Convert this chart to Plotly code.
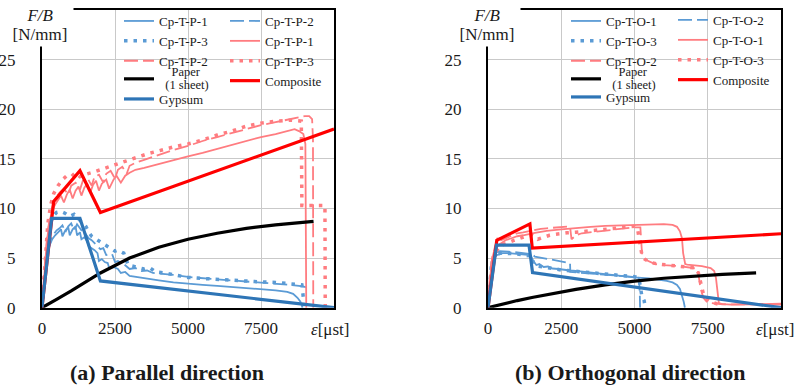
import plotly.graph_objects as go

W, H = 798, 387

# ---------------- (a) Parallel direction ----------------
par_blue1_x = [0, 80, 160, 250, 350, 450, 550, 650, 700, 800, 900, 950, 1050, 1150, 1200, 1300, 1350, 1450, 1550, 1600,
               1700, 1800, 1900, 1950, 2050, 2150, 2250, 2300, 2450, 2600, 2700, 2850, 3000, 3500, 4000, 4500, 5000,
               5500, 6000, 6500, 7000, 7500, 8000, 8400, 8600, 8750, 8850, 8900, 8920]
par_blue1_y = [0, 2.5, 4.8, 6.2, 6.9, 7.3, 7.6, 7.9, 7.2, 7.8, 8.1, 7.3, 7.9, 8.2, 7.3, 7.6, 6.9, 7.1, 6.7, 6.2,
               6.0, 5.8, 5.5, 4.7, 4.9, 4.6, 4.5, 4.0, 4.1, 3.9, 3.5, 3.6, 3.2, 2.95, 2.75, 2.55, 2.4,
               2.3, 2.2, 2.1, 2.0, 1.9, 1.75, 1.6, 1.4, 1.0, 0.6, 0.2, 0]

par_blue2_x = [0, 100, 200, 300, 400, 500, 600, 700, 800, 900, 1000, 1100, 1200, 1300, 1400, 1500, 1600, 1700, 1800,
               1900, 2000, 2100, 2200, 2400, 2500, 2600, 2800, 3000, 3200, 3400, 3600, 3800, 4000, 4500, 5000, 5500,
               6000, 6500, 7000, 7500, 8000, 8500, 8800, 9000, 9180]
par_blue2_y = [0, 3.2, 5.6, 6.8, 7.4, 7.8, 8.0, 8.3, 7.6, 8.2, 8.5, 7.8, 8.4, 8.0, 7.6, 7.4, 7.0, 6.8, 6.5,
               6.3, 5.9, 6.0, 5.3, 5.4, 4.6, 4.7, 4.4, 3.9, 4.0, 3.7, 3.75, 3.5, 3.45, 3.3, 3.1, 2.95,
               2.85, 2.75, 2.65, 2.55, 2.45, 2.3, 2.2, 2.1, 1.9]

par_blue3_x = [0, 100, 200, 300, 400, 500, 650, 800, 950, 1100, 1250, 1400, 1500, 1600, 1700, 1800, 2000, 2200, 2400,
               2500, 2600, 2800, 2950, 3100, 3300, 3500, 3700, 3900, 4200, 4500, 5000, 5500, 6000, 6500, 7000, 7500,
               8000, 8500, 8900, 8950, 8960]
par_blue3_y = [0, 4.0, 7.0, 8.6, 9.3, 9.6, 9.7, 9.5, 9.2, 9.4, 8.9, 8.5, 8.2, 7.6, 7.2, 7.0, 6.6, 6.2, 5.9,
               5.7, 5.8, 5.5, 4.3, 4.2, 4.1, 3.9, 4.0, 3.6, 3.5, 3.3, 3.05, 2.95, 2.85, 2.75, 2.7, 2.6,
               2.55, 2.45, 2.3, 1.0, 0]

par_red1_x = [0, 80, 160, 250, 350, 450, 550, 650, 750, 850, 950, 1050, 1150, 1250, 1350, 1450, 1550, 1650, 1750,
              1850, 1950, 2050, 2200, 2300, 2450, 2550, 2700, 2850, 3000, 3200, 3500, 4000, 4500, 5000, 5500, 6000,
              6500, 7000, 7500, 8000, 8400, 8650, 8800, 8950, 9020, 9040, 9050]
par_red1_y = [0, 3.5, 6.5, 8.6, 9.8, 10.4, 10.9, 11.3, 10.6, 11.4, 11.9, 11.0, 11.8, 12.2, 11.3, 12.1, 12.5, 11.6, 12.4,
              12.8, 11.8, 12.5, 12.9, 12.0, 12.9, 13.3, 12.6, 13.3, 13.6, 13.9, 14.1, 14.5, 14.9, 15.25, 15.6, 16.0,
              16.4, 16.8, 17.2, 17.5, 17.8, 18.0, 17.8, 17.5, 16.5, 8.0, 0]

par_red2_x = [0, 100, 200, 300, 400, 500, 600, 750, 900, 1000, 1150, 1300, 1400, 1550, 1700, 1800, 1950, 2100, 2200,
              2350, 2500, 2600, 2750, 2900, 3000, 3200, 3500, 4000, 4500, 5000, 5500, 6000, 6500, 7000, 7500, 8000,
              8500, 8800, 9000, 9150, 9250, 9280, 9290]
par_red2_y = [0, 4.5, 7.8, 9.6, 10.6, 11.2, 11.6, 12.0, 11.4, 12.3, 12.6, 11.9, 12.8, 13.1, 12.3, 13.2, 13.4, 12.6, 13.5,
              13.8, 13.0, 13.9, 14.2, 13.5, 14.3, 14.6, 14.9, 15.4, 15.9, 16.3, 16.8, 17.2, 17.6, 18.0, 18.4, 18.7,
              19.0, 19.2, 19.3, 19.3, 19.0, 17.0, 0]

par_red3_x = [0, 100, 200, 300, 400, 550, 700, 850, 1000, 1150, 1300, 1450, 1600, 1800, 2000, 2200, 2400, 2600, 2800,
              3000, 3300, 3600, 4000, 4500, 5000, 5500, 6000, 6500, 7000, 7500, 8000, 8500, 8880, 8895, 8900, 9300,
              9690, 9700]
par_red3_y = [0, 5.0, 8.5, 10.4, 11.5, 12.3, 12.9, 13.3, 13.2, 13.6, 13.2, 13.4, 13.5, 13.7, 13.9, 14.1, 14.3, 14.5, 14.7,
              14.9, 15.2, 15.5, 15.8, 16.2, 16.5, 16.9, 17.4, 17.8, 18.3, 18.6, 18.8, 18.9, 18.8, 14.0, 10.3, 10.3,
              10.3, 0]

par_paper_x = [0, 250, 500, 1000, 1500, 2000, 3000, 4000, 5000, 6000, 7000, 8000, 9300]
par_paper_y = [0, 0.45, 0.85, 1.7, 2.6, 3.5, 5.0, 6.1, 6.9, 7.5, 8.0, 8.35, 8.7]

par_comp_x = [0, 400, 1300, 2000, 10000]
par_comp_y = [0, 10.7, 13.8, 9.6, 18.0]

par_gyp_x = [0, 330, 1300, 2000, 10000]
par_gyp_y = [0, 9.0, 9.0, 2.7, 0]

# ---------------- (b) Orthogonal direction ----------------
ort_blue1_x = [0, 60, 120, 200, 300, 400, 500, 700, 900, 1100, 1300, 1450, 1550, 1650, 1750, 1900, 2050, 2200, 2400,
               2600, 2800, 3000, 3300, 3600, 4000, 4500, 5000, 5500, 5800, 6100, 6300, 6450, 6550, 6620, 6680, 6720]
ort_blue1_y = [0, 2.5, 4.2, 5.0, 5.3, 5.4, 5.5, 5.5, 5.45, 5.4, 5.35, 5.3, 4.7, 4.3, 4.4, 4.1, 4.15, 3.95, 3.9,
               3.8, 3.75, 3.7, 3.6, 3.5, 3.35, 3.2, 3.05, 2.95, 2.85, 2.7, 2.55, 2.3, 1.9, 1.3, 0.6, 0]

ort_blue2_x = [0, 60, 120, 200, 300, 400, 500, 700, 900, 1100, 1300, 1500, 1600, 1800, 2000, 2200, 2400, 2600, 2800,
               2810, 3000, 3300, 3600, 4000, 4500, 5000, 5150, 5180, 5190]
ort_blue2_y = [0, 2.8, 4.6, 5.3, 5.6, 5.7, 5.7, 5.65, 5.6, 5.55, 5.5, 5.4, 5.15, 5.05, 4.95, 4.85, 4.75, 4.65, 4.5,
               3.6, 3.55, 3.45, 3.4, 3.3, 3.2, 3.1, 3.0, 1.5, 0]

ort_blue3_x = [0, 60, 120, 200, 300, 450, 600, 800, 1000, 1200, 1400, 1500, 1550, 1700, 1900, 2100, 2300, 2500, 2700,
               2900, 3100, 3400, 3800, 4200, 4600, 5000, 5150, 5200, 5250, 5330, 5360, 5370]
ort_blue3_y = [0, 2.6, 4.4, 5.1, 5.4, 5.5, 5.5, 5.45, 5.4, 5.3, 5.25, 5.2, 4.4, 4.2, 4.1, 4.0, 3.85, 3.8, 3.75,
               3.7, 3.65, 3.55, 3.45, 3.35, 3.25, 3.12, 3.0, 2.0, 1.2, 0.7, 0.3, 0]

ort_red1_x = [0, 60, 120, 200, 300, 400, 600, 800, 1000, 1200, 1400, 1600, 1800, 2000, 2500, 3000, 3500, 4000, 4500,
              5000, 5500, 6000, 6300, 6450, 6550, 6620, 6660, 6700, 6730, 6800, 7000, 7300, 7600, 7720, 7780, 7820,
              7850, 7880, 8000, 8300, 9000, 10000]
ort_red1_y = [0, 2.8, 4.6, 5.6, 6.1, 6.4, 6.8, 7.0, 7.2, 7.3, 7.45, 7.55, 7.65, 7.75, 7.9, 8.05, 8.15, 8.25, 8.3,
              8.38, 8.42, 8.42, 8.35, 8.15, 7.7, 7.0, 5.5, 4.6, 4.4, 4.35, 4.3, 4.2, 4.0, 3.7, 3.0, 1.8,
              0.8, 0.45, 0.35, 0.3, 0.35, 0.4]

ort_red2_x = [0, 60, 150, 250, 350, 450, 600, 800, 1000, 1200, 1350, 1500, 1650, 1800, 2000, 2200, 2400, 2600, 2800,
              2850, 3000, 3200, 3500, 4000, 4500, 5000, 5200, 5230, 5260, 5400, 5700, 6000, 6500, 7000, 7150, 7200,
              7250, 7350, 7500, 8000, 9000, 10000]
ort_red2_y = [0, 3.0, 5.2, 6.3, 7.3, 6.8, 7.0, 7.3, 7.5, 7.6, 7.7, 7.8, 7.9, 7.95, 8.0, 8.05, 8.1, 8.15, 8.2,
              6.9, 7.3, 7.5, 7.6, 7.8, 8.0, 8.1, 8.1, 6.9, 5.3, 4.8, 4.4, 4.3, 4.2, 4.0, 3.9, 3.0,
              2.0, 1.0, 0.5, 0.35, 0.3, 0.3]

ort_red3_x = [0, 80, 160, 260, 400, 550, 700, 900, 1100, 1300, 1500, 1700, 1900, 2100, 2300, 2500, 2700, 3000, 3300,
              3600, 4000, 4400, 4800, 5000, 5100, 5150, 5200, 5260, 5350, 5500, 5800, 6100, 6500, 6900, 7100, 7180,
              7230, 7280, 7350, 7450, 7600, 7800, 8000]
ort_red3_y = [0, 2.6, 4.4, 5.6, 6.2, 6.4, 6.6, 6.8, 7.0, 7.2, 7.3, 6.9, 7.1, 7.3, 7.4, 7.5, 7.55, 7.6, 7.7,
              7.8, 7.9, 8.05, 8.15, 8.2, 8.0, 7.0, 6.0, 5.2, 4.9, 4.6, 4.4, 4.3, 4.25, 4.1, 4.0, 3.5,
              2.8, 2.0, 1.4, 0.9, 0.6, 0.4, 0.35]

ort_paper_x = [0, 500, 1000, 1500, 2000, 3000, 4000, 5000, 6000, 7000, 8000, 9150]
ort_paper_y = [0, 0.38, 0.72, 1.03, 1.32, 1.85, 2.3, 2.68, 2.97, 3.18, 3.35, 3.5]

ort_comp_x = [0, 300, 1430, 1510, 10000]
ort_comp_y = [0, 6.8, 8.45, 6.0, 7.45]

ort_gyp_x = [0, 290, 1400, 1520, 10000]
ort_gyp_y = [0, 6.3, 6.3, 3.55, 0]

# ---------------- axis ticks ----------------
x_tickvals = [0, 2500, 5000, 7500, 10000]
x_ticktext = ["0", "2500", "5000", "7500", ""]
y_tickvals = [0, 5, 10, 15, 20, 25]
y_ticktext = ["0", "5", "10", "15", "20", "25"]
x_title = "<i>ε</i>[μst]"
y_title_top = "<i>F/B</i>"
y_title_unit = "[N/mm]"

# ---------------- styles ----------------
FONT = "Liberation Serif"
TXT = "#1a1a1a"
C_BLUE = "#5B9BD5"
C_PINK = "#FF7C80"
C_COMP = "#FF0000"
C_GYP = "#2E75B6"
C_PAPER = "#000000"
THIN = 1.8
THICK = 3.2
DOT = "3.5px,6px"
DASH = "14px,5px"

fig = go.Figure()


def add(x, y, name, color, width, dash, xa, ya, legend):
    fig.add_trace(go.Scatter(
        x=x, y=y, mode="lines", name=name,
        line=dict(color=color, width=width, dash=dash),
        xaxis=xa, yaxis=ya, legend=legend, hoverinfo="skip",
    ))


paper_lbl = ("<span style='font-size:12.5px'>\u00a0\u00a0\u00a0\u00a0Paper</span><br>"
             "<span style='font-size:12.5px'>\u00a0\u00a0(1 sheet)</span>")

panels = [
    ("x", "y", "P", ["legend", "legend2", "legend3", "legend4"],
     [par_blue1_x, par_blue2_x, par_blue3_x, par_red1_x, par_red2_x, par_red3_x],
     [par_blue1_y, par_blue2_y, par_blue3_y, par_red1_y, par_red2_y, par_red3_y],
     (par_paper_x, par_paper_y), (par_comp_x, par_comp_y), (par_gyp_x, par_gyp_y)),
    ("x2", "y2", "O", ["legend5", "legend6", "legend7", "legend8"],
     [ort_blue1_x, ort_blue2_x, ort_blue3_x, ort_red1_x, ort_red2_x, ort_red3_x],
     [ort_blue1_y, ort_blue2_y, ort_blue3_y, ort_red1_y, ort_red2_y, ort_red3_y],
     (ort_paper_x, ort_paper_y), (ort_comp_x, ort_comp_y), (ort_gyp_x, ort_gyp_y)),
]

for xa, ya, tag, lg, xs, ys, paper, comp, gyp in panels:
    colA, colB, legPaper, legGyp = lg
    specs = [
        (f"Cp-T-{tag}-1", C_BLUE, THIN, "solid", colA),
        (f"Cp-T-{tag}-2", C_BLUE, THIN, DASH, colB),
        (f"Cp-T-{tag}-3", C_BLUE, 3.5, DOT, colA),
        (f"Cp-T-{tag}-1", C_PINK, THIN, "solid", colB),
        (f"Cp-T-{tag}-2", C_PINK, THIN, DASH, colA),
        (f"Cp-T-{tag}-3", C_PINK, 3.5, DOT, colB),
    ]
    for (name, color, wdt, dash, leg), x, y in zip(specs, xs, ys):
        add(x, y, name, color, wdt, dash, xa, ya, leg)
    add(paper[0], paper[1], paper_lbl, C_PAPER, THICK, "solid", xa, ya, legPaper)
    add(comp[0], comp[1], "Composite", C_COMP, THICK, "solid", xa, ya, colB)
    add(gyp[0], gyp[1], "Gypsum", C_GYP, THICK, "solid", xa, ya, legGyp)


def px_x(p):
    return p / W


def px_y(p):
    return 1 - p / H


axis_common = dict(
    showline=True, linecolor="black", linewidth=2, mirror=True,
    showgrid=True, gridcolor="#c9c9c9", gridwidth=1, zeroline=False,
    ticks="", tickfont=dict(family=FONT, size=17, color=TXT), automargin=False,
)

ydom = [px_y(307.7), px_y(10)]
layout = dict(
    width=W, height=H,
    margin=dict(l=0, r=0, t=0, b=0, autoexpand=False),
    paper_bgcolor="white", plot_bgcolor="white",
    font=dict(family=FONT, color=TXT),
    xaxis=dict(domain=[px_x(42), px_x(334)], range=[0, 10000], anchor="y",
               tickvals=x_tickvals, ticktext=x_ticktext, ticklabelstandoff=4, **axis_common),
    yaxis=dict(domain=ydom, range=[0, 30], anchor="x",
               tickvals=y_tickvals, ticktext=y_ticktext, ticklabelstandoff=21, **axis_common),
    xaxis2=dict(domain=[px_x(488), px_x(781)], range=[0, 10000], anchor="y2",
                tickvals=x_tickvals, ticktext=x_ticktext, ticklabelstandoff=4, **axis_common),
    yaxis2=dict(domain=ydom, range=[0, 30], anchor="x2",
                tickvals=y_tickvals, ticktext=y_ticktext, ticklabelstandoff=21, **axis_common),
)


def legend_box(left, top, size=13):
    return dict(
        xref="container", yref="container", x=px_x(left), y=px_y(top),
        xanchor="left", yanchor="top", orientation="v",
        bgcolor="rgba(0,0,0,0)", borderwidth=0, itemwidth=30,
        tracegroupgap=0, font=dict(family=FONT, size=size, color=TXT),
    )


layout["legend"] = legend_box(119, 6)
layout["legend2"] = legend_box(225, 6)
layout["legend3"] = legend_box(119, 60, size=9.5)
layout["legend4"] = legend_box(119, 84)
layout["legend5"] = legend_box(566, 6)
layout["legend6"] = legend_box(673, 5)
layout["legend7"] = legend_box(566, 60, size=9.5)
layout["legend8"] = legend_box(566, 82)

annotations = []
for cx in (40, 487):
    # white boxes behind the axis title also mask the frame corner
    annotations.append(dict(
        xref="paper", yref="paper", x=px_x(cx), y=px_y(34),
        text=y_title_unit, showarrow=False, xanchor="center", yanchor="middle",
        width=64, height=22, bgcolor="white",
        font=dict(family=FONT, size=17, color=TXT),
    ))
    annotations.append(dict(
        xref="paper", yref="paper", x=px_x(cx), y=px_y(15),
        text=y_title_top, showarrow=False, xanchor="center", yanchor="middle",
        width=64, height=18, bgcolor="white",
        font=dict(family=FONT, size=17, color=TXT),
    ))

# strain axis titles sit at the right end of each x axis
for cx in (329.5, 775):
    annotations.append(dict(
        xref="paper", yref="paper", x=px_x(cx), y=px_y(329),
        text=x_title, showarrow=False, xanchor="center", yanchor="middle",
        font=dict(family=FONT, size=17, color=TXT),
    ))

for cx, label in ((167, "(a) Parallel direction"), (630, "(b) Orthogonal direction")):
    annotations.append(dict(
        xref="paper", yref="paper", x=px_x(cx), y=px_y(372),
        text=f"<b>{label}</b>", showarrow=False, xanchor="center", yanchor="middle",
        font=dict(family=FONT, size=22, color=TXT),
    ))

layout["annotations"] = annotations
fig.update_layout(**layout)

fig.write_html("out.html")
